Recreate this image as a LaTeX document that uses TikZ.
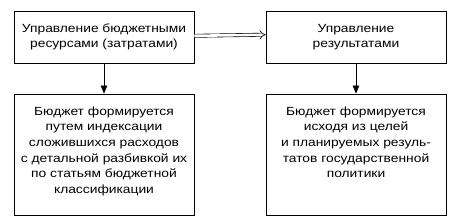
\documentclass[tikz,border=0pt]{standalone}
\usepackage{fontspec}
\setmainfont[FakeStretch=1.17]{Liberation Sans}
\usetikzlibrary{arrows.meta}
\begin{document}
\begin{tikzpicture}[x=1pt,y=-1pt,
  boxstyle/.style={draw=black, line width=0.8pt, rectangle, inner sep=0pt},
  txt/.style={align=center, inner sep=0pt, font=\fontsize{11.8}{15.6}\selectfont},
  arr/.style={line width=0.6pt, -{Triangle[length=8pt,width=6.5pt]}},
  dbl/.style={double=white, double distance=2.6pt, line width=0.6pt, -{Implies[length=6pt,width=11pt]}}
]
\useasboundingbox (0,0) rectangle (454,221);
\node[boxstyle, minimum width=180pt, minimum height=52pt] (b1) at (104,37) {};
\node[boxstyle, minimum width=180pt, minimum height=52pt] (b2) at (356,37) {};
\node[boxstyle, minimum width=180pt, minimum height=121pt] (b3) at (104,154.5) {};
\node[boxstyle, minimum width=180pt, minimum height=121pt] (b4) at (356,154.5) {};
\node[txt] (t1) at (b1.center) {Управление бюджетными\\ресурсами (затратами)};
\node[txt] (t2) at (b2.center) {Управление\\результатами};
\node[txt, anchor=north] (t3) at ([yshift=-13pt]b3.north) {Бюджет формируется\\путем индексации\\сложившихся расходов\\с детальной разбивкой их\\по статьям бюджетной\\классификации};
\node[txt, anchor=north] (t4) at ([yshift=-13pt]b4.north) {Бюджет формируется\\исходя из целей\\и планируемых резуль-\\татов государственной\\политики};
\draw[arr] (b1.south) -- (b3.north);
\draw[arr] (b2.south) -- (b4.north);
\draw[dbl] ([yshift=1.2pt]b1.east) -- ([yshift=2.3pt]b2.west);
\end{tikzpicture}
\end{document}
